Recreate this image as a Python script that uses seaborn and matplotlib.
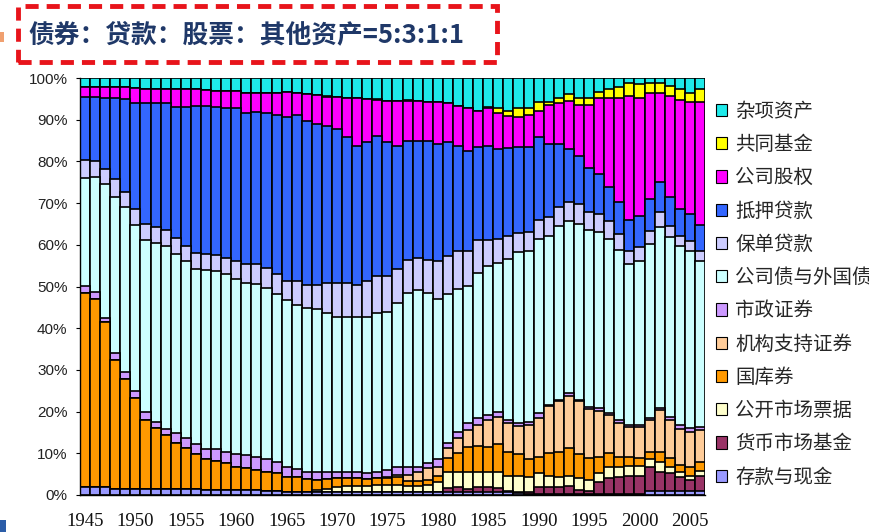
import numpy as np
import pandas as pd
import matplotlib
matplotlib.use("Agg")
import matplotlib.pyplot as plt
import seaborn as sns
from matplotlib.patches import Patch, Rectangle

years = list(range(1945, 2007))

series_names = ["存款与现金", "货币市场基金", "公开市场票据", "国库券", "机构支持证券", "市政证券",
                "公司债与外国债", "保单贷款", "抵押贷款", "公司股权", "共同基金", "杂项资产"]
colors = ["#9999FF", "#993366", "#FFFFCC", "#FF9900", "#FFCC99", "#CC99FF",
          "#CCFFFF", "#CCCCFF", "#3366FF", "#FF00FF", "#FFFF00", "#1EEAEA"]

cash = [2.0, 1.8, 2.0, 1.4, 1.4, 1.4, 1.4, 1.4, 1.4, 1.4, 1.4, 1.4,
        1.2, 1.2, 1.2, 1.2, 1.2, 1.2, 1.0, 1.0, 0.8, 0.8, 0.8, 0.8,
        0.8, 0.8, 0.8, 0.8, 0.8, 0.8, 0.8, 0.8, 0.8, 0.8, 0.8,
        0.6, 0.6, 0.6, 0.6, 0.6, 0.6, 0.6, 0.6, 0.4, 0.3,
        0.3, 0.3, 0.3, 0.3, 0.3, 0.3, 0.3, 0.3, 0.3, 0.3,
        0.3, 1.0, 1.0, 1.0, 1.0, 1.0, 1.0]
money_fund = [0] * 35 + [0.2, 1.0, 1.4, 0.8, 1.2, 1.2, 1.0, 0.4, 0.4, 0.5,
                         1.5, 1.5, 1.5, 1.9, 0.9, 0.7, 2.7, 3.7, 3.9, 4.3,
                         4.3, 5.6, 4.6, 4.2, 3.2, 2.6, 3.6]
open_market = [0] * 23 + [0.4, 0.6, 1.2, 1.4, 1.4, 1.4, 1.5, 1.5, 1.5, 1.4, 1.4, 1.6,
                          2.4, 3.8, 3.6, 4.0, 3.8, 3.6, 3.8, 3.6, 3.8, 3.6,
                          3.4, 2.8, 2.6, 2.4, 2.8, 2.6, 2.2, 2.6, 2.6, 2.4,
                          2.4, 2.0, 2.4, 1.6, 1.4, 1.0, 1.2]
treasury = [46.5, 45.3, 39.4, 30.9, 26.3, 21.8, 16.7, 14.6, 13.1, 11.0, 9.8, 8.4,
            7.4, 7.0, 6.4, 5.6, 5.2, 4.8, 4.6, 4.2, 3.6, 3.4, 3.0, 2.4,
            2.4, 2.0, 1.8, 1.8, 1.6, 1.7, 1.7, 1.9, 1.2, 1.2, 1.2,
            1.4, 3.4, 4.4, 6.2, 6.2, 6.2, 6.8, 5.8, 5.2, 4.2,
            4.0, 5.4, 5.8, 6.6, 5.8, 5.2, 4.0, 3.4, 2.4, 2.0,
            1.8, 1.6, 2.4, 2.0, 1.6, 2.0, 2.0]
agency = [0] * 30 + [0.4, 0.6, 1.4, 2.0, 2.8,
                     2.2, 2.4, 3.7, 4.1, 5.1, 6.5, 6.6, 6.8, 6.7, 8.2,
                     9.3, 11.3, 12.3, 12.5, 12.7, 11.8, 11.0, 9.2, 8.1, 7.4,
                     7.6, 7.8, 10.0, 9.3, 8.7, 8.6, 7.9]
municipal = [1.6, 1.5, 1.1, 1.8, 1.9, 1.8, 1.9, 1.4, 1.4, 2.4, 2.4, 2.4,
             2.4, 2.8, 2.6, 3.0, 3.2, 3.2, 3.0, 2.6, 2.4, 2.1, 1.8, 1.8,
             1.7, 1.5, 1.5, 1.4, 1.4, 1.5, 1.6, 1.8, 1.8, 1.4, 1.2,
             1.8, 1.2, 1.5, 1.5, 1.5, 1.1, 1.2, 0.8, 0.8, 0.6,
             1.1, 0.4, 0.4, 0.7, 0.4, 0.6, 0.6, 0.5, 0.7, 0.5,
             0.5, 0.4, 0.5, 0.7, 0.8, 0.8, 0.7]
corporate = [25.8, 27.6, 32.0, 37.4, 39.4, 39.7, 41.2, 43.1, 43.7, 42.9, 42.5, 41.9,
             42.9, 42.6, 42.7, 41.9, 41.2, 41.3, 41.0, 40.3, 40.0, 39.2, 39.2, 39.1,
             38.1, 37.1, 37.1, 37.4, 37.6, 38.1, 37.8, 39.4, 41.8, 42.4, 40.8,
             38.3, 35.7, 34.1, 32.9, 34.8, 35.6, 35.7, 38.5, 40.9, 41.0,
             41.7, 40.4, 41.6, 41.3, 42.2, 42.3, 42.2, 41.6, 40.8, 38.4,
             39.2, 41.8, 43.4, 43.0, 42.9, 42.4, 39.7]
policy_loans = [4.4, 4.0, 3.6, 4.2, 3.7, 3.8, 3.9, 3.7, 3.9, 4.0, 3.5, 4.0,
                3.8, 3.9, 4.0, 4.5, 4.5, 4.8, 4.8, 4.8, 4.6, 5.7, 5.6, 5.9,
                7.2, 8.2, 8.2, 7.6, 8.6, 8.8, 8.8, 8.1, 8.0, 7.7, 8.0,
                9.1, 9.3, 9.2, 8.4, 8.0, 6.4, 5.6, 5.6, 4.7, 4.7,
                4.6, 4.5, 4.6, 4.5, 4.6, 4.4, 4.5, 4.4, 3.9, 3.1,
                3.3, 3.2, 3.5, 2.7, 2.5, 2.4, 2.4]
mortgage = [15.2, 15.3, 17.2, 19.6, 22.3, 25.6, 29.0, 29.9, 30.6, 31.4, 33.5, 35.3,
            35.7, 35.6, 35.8, 36.5, 36.2, 36.5, 37.1, 38.2, 39.3, 39.9, 39.4, 38.5,
            37.8, 36.9, 35.1, 33.4, 33.3, 33.8, 32.1, 29.7, 28.6, 28.1, 28.6,
            28.1, 27.3, 25.3, 24.1, 22.3, 22.5, 21.6, 21.0, 20.6, 20.4,
            20.0, 17.5, 15.0, 12.7, 11.6, 10.4, 9.4, 8.1, 7.5, 7.5,
            7.5, 7.7, 7.2, 6.9, 6.6, 6.7, 6.2]
equity = [2.3, 2.4, 2.5, 2.5, 2.8, 3.4, 3.3, 3.3, 3.3, 4.3, 4.3, 3.9,
          3.7, 3.9, 4.1, 4.1, 5.0, 4.7, 4.8, 5.4, 5.9, 5.4, 6.4, 7.0,
          6.9, 7.7, 9.4, 11.3, 10.3, 8.5, 9.9, 10.8, 9.6, 9.6, 9.3,
          10.1, 9.2, 9.6, 10.1, 8.7, 9.0, 8.6, 7.9, 7.2, 7.6,
          6.2, 9.4, 9.8, 11.7, 12.2, 15.2, 18.2, 21.5, 24.9, 29.7,
          28.4, 25.4, 21.5, 24.3, 26.0, 26.8, 29.6]
mutual_funds = [0] * 24 + [0.3, 0, 0, 0, 0, 0.3, 0, 0, 0.2, 0, 0,
                           0, 0, 0, 0.2, 0, 0.4, 1.4, 1.2, 2.0, 1.6,
                           2.1, 0.7, 1.2, 1.5, 1.6, 1.6, 1.6, 2.1, 2.7, 3.3,
                           3.3, 2.2, 2.2, 2.4, 2.6, 2.2, 3.0]
misc = [2.2, 2.1, 2.2, 2.2, 2.2, 2.5, 2.6, 2.6, 2.6, 2.6, 2.6, 2.7,
        2.9, 3.0, 3.2, 3.2, 3.5, 3.5, 3.7, 3.5, 3.4, 3.5, 3.8, 4.1,
        4.2, 4.6, 4.7, 4.9, 5.0, 5.0, 5.4, 5.4, 5.2, 5.4, 5.7,
        5.8, 6.1, 6.6, 7.1, 7.8, 6.9, 7.1, 7.8, 7.3, 7.3,
        5.8, 5.8, 4.9, 3.9, 4.9, 4.9, 3.3, 2.6, 2.2, 1.1,
        1.4, 1.3, 1.3, 1.9, 2.7, 3.5, 2.7]

title_text = "债券：贷款：股票：其他资产=5:3:1:1"
x_ticks = [1945, 1950, 1955, 1960, 1965, 1970, 1975, 1980, 1985, 1990, 1995, 2000, 2005]
y_ticks = list(range(0, 101, 10))

series = [cash, money_fund, open_market, treasury, agency, municipal,
          corporate, policy_loans, mortgage, equity, mutual_funds, misc]
df = pd.DataFrame(np.array(series).T, columns=series_names)
df = df.div(df.sum(axis=1), axis=0) * 100
cum = df.cumsum(axis=1)
cum["year"] = years

sns.set_theme(style="white")
plt.rcParams["font.family"] = ["Noto Sans CJK SC", "DejaVu Sans"]

fig = plt.figure(figsize=(8.7, 5.32), dpi=100)
ax = fig.add_axes([80 / 870, 1 - 495 / 532, 625 / 870, 417 / 532])

for name, col in reversed(list(zip(series_names, colors))):
    sns.barplot(data=cum, x="year", y=name, color=col, saturation=1, width=1.0,
                edgecolor="black", linewidth=1.2, native_scale=True, errorbar=None,
                ax=ax)

ax.set_xlim(1944.5, 2006.5)
ax.set_ylim(0, 100)
ax.set_xlabel("")
ax.set_ylabel("")
ax.set_yticks(y_ticks)
ax.set_yticklabels([f"{v}%" for v in y_ticks], family="Liberation Sans", fontsize=11, color="#222222")
ax.set_xticks(x_ticks)
ax.set_xticklabels([str(v) for v in x_ticks], family="Liberation Serif", fontsize=13.5, color="#111111")
ax.tick_params(axis="y", length=3, width=0.8, color="black", pad=6, left=True)
ax.tick_params(axis="x", length=0, pad=13)
for s in ["top", "right"]:
    ax.spines[s].set_visible(False)
for s in ["left", "bottom"]:
    ax.spines[s].set_color("black")
    ax.spines[s].set_linewidth(1)

handles = [Patch(facecolor=c, edgecolor="black", linewidth=0.8, label=n)
           for n, c in zip(series_names, colors)][::-1]
fig.legend(handles=handles, loc="upper left", bbox_to_anchor=(708 / 870, 1 - 93 / 532),
           frameon=False, fontsize=14, handlelength=0.6, handleheight=0.6,
           handletextpad=0.4, labelspacing=0.63, borderaxespad=0)

# title box
fig.patches.append(Rectangle((18 / 870, 1 - 62 / 532), 479 / 870, 56 / 532,
                             transform=fig.transFigure, fill=False, edgecolor="#E8141B",
                             linewidth=3.5, linestyle=(0, (2.7, 1.65)), zorder=5))
fig.text(28 / 870, 1 - 35 / 532, title_text, fontsize=18.5, fontweight="bold",
         color="#1F3868", ha="left", va="center",
         family=["Noto Sans CJK SC", "DejaVu Sans"])

# small decorative marks at the slide edge
fig.patches.append(Rectangle((0, 1 - 42 / 532), 4 / 870, 10 / 532, transform=fig.transFigure,
                             facecolor="#F0A070", edgecolor="none"))
fig.patches.append(Rectangle((0, 0), 6 / 870, 12 / 532, transform=fig.transFigure,
                             facecolor="#2B5DA8", edgecolor="none"))

fig.savefig("out.png", dpi=100)
